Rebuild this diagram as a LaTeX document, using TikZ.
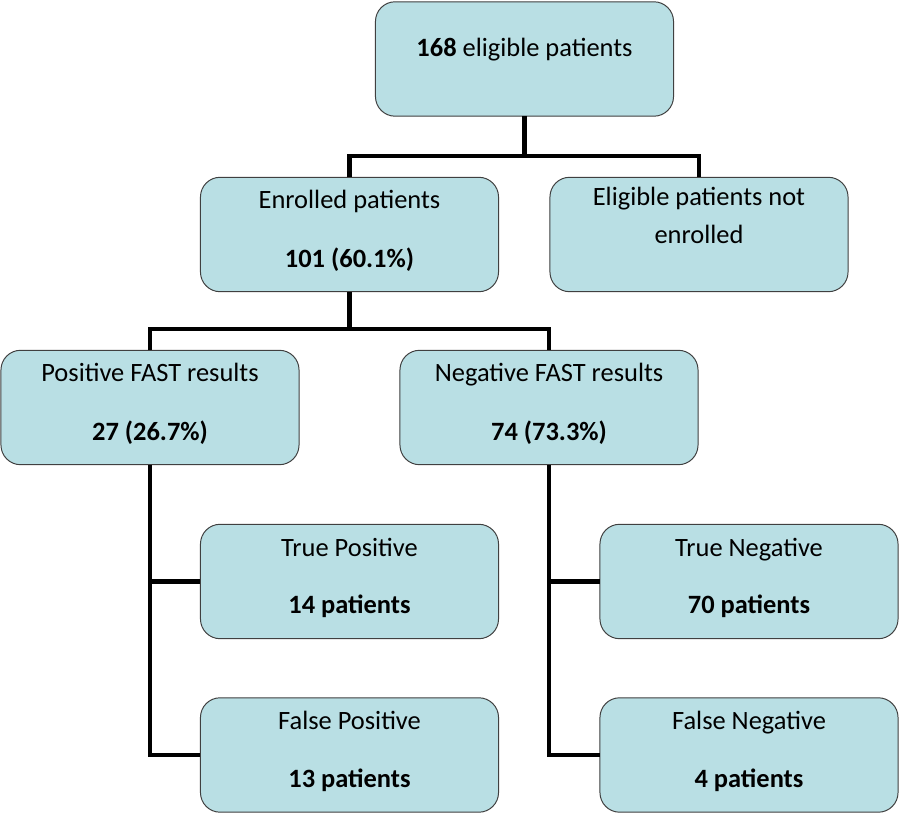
\documentclass[tikz,border=0pt]{standalone}
\usepackage{fontspec}
\setmainfont{Carlito}
\definecolor{boxfill}{RGB}{185,223,228}
\tikzset{
  box/.style={draw=black!75, line width=0.7pt, fill=boxfill, rounded corners=14pt,
    minimum width=7.45cm, minimum height=2.86cm, inner sep=0pt, outer sep=0pt,
    align=center, font=\fontsize{18.8}{27}\selectfont},
  link/.style={line width=3.1pt, black}
}
\begin{document}
\begin{tikzpicture}[x=0.025cm, y=-0.025cm]
    \useasboundingbox (0,0) rectangle (903,839);

    %% boxes
    \node[box] (top) at (524.5,59) {\textbf{168} eligible patients\\[-11pt] };
    \node[box] (enr) at (349.5,234.5) {Enrolled patients\\[15pt]\textbf{101 (60.1\%)}\\[-19pt] };
    \node[box] (notenr) at (699,234.5) {Eligible patients not\\enrolled\\ };
    \node[box] (pos) at (150,407.5) {Positive FAST results\\[15pt]\textbf{27 (26.7\%)}\\[-19pt] };
    \node[box] (neg) at (549,407.5) {Negative FAST results\\[15pt]\textbf{74 (73.3\%)}\\[-19pt] };
    \node[box] (tp) at (349.5,581.5) {True Positive\\[14pt]\textbf{14 patients}\\[-19pt] };
    \node[box] (fp) at (349.5,755) {False Positive\\[14pt]\textbf{13 patients}\\[-19pt] };
    \node[box] (tn) at (749,581.5) {True Negative\\[14pt]\textbf{70 patients}\\[-19pt] };
    \node[box] (fn) at (749,755) {False Negative\\[14pt]\textbf{4 patients}\\[-19pt] };

    %% junctions
    \coordinate (j1) at (524.5,156);
    \coordinate (j2) at (349.5,329);

    %% connectors
    \draw[link] (top.south) -- (j1);
    \draw[link] (enr.north) |- (j1) -| (notenr.north);
    \draw[link] (enr.south) -- (j2);
    \draw[link] (pos.north) |- (j2) -| (neg.north);
    \draw[link] (pos.south) |- (fp.west);
    \draw[link] (pos.south |- tp.west) -- (tp.west);
    \draw[link] (neg.south) |- (fn.west);
    \draw[link] (neg.south |- tn.west) -- (tn.west);
\end{tikzpicture}
\end{document}
